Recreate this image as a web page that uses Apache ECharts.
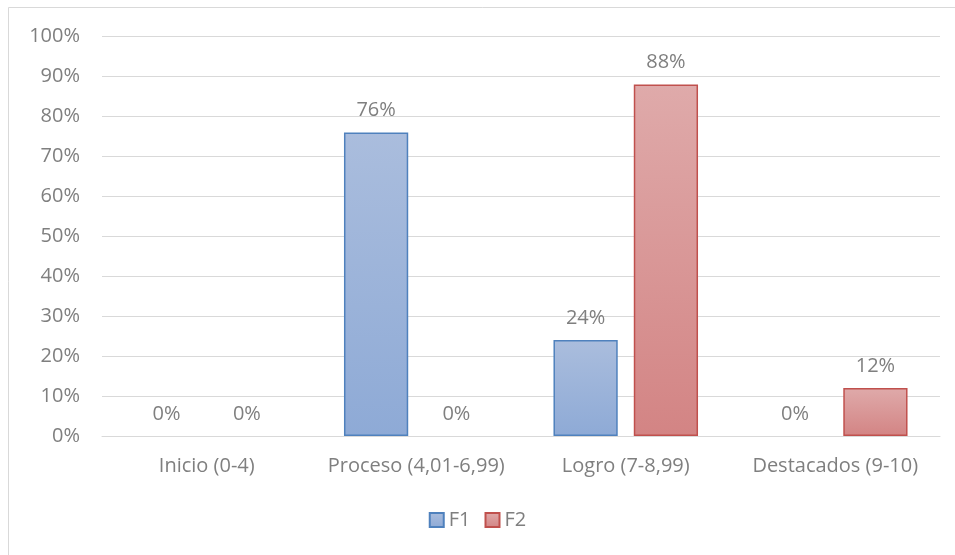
<!DOCTYPE html>
<html>
<head>
<meta charset="utf-8">
<script src="https://cdn.jsdelivr.net/npm/echarts@6/dist/echarts.min.js"></script>
<style>
  html, body { margin: 0; padding: 0; background: #fff; }
  #chart { width: 955px; height: 555px; }
</style>
</head>
<body>
<div id="chart"></div>
<script>
const categories = ["Inicio (0-4)", "Proceso (4,01-6,99)", "Logro (7-8,99)", "Destacados (9-10)"];
const f1Values = [0, 76, 24, 0];
const f2Values = [0, 0, 88, 12];

const chart = echarts.init(document.getElementById("chart"));

const fontFamily = "'Open Sans', 'Noto Sans', sans-serif";
const textColor = "#7f7f7f";
const fontSize = 20;

function barGradient(top, bottom) {
    return new echarts.graphic.LinearGradient(0, 0, 0, 1, [
        { offset: 0, color: top },
        { offset: 1, color: bottom }
    ]);
}

// zero-height bars get no outline, like the original
function toBarData(values) {
    return values.map(v => v === 0 ? { value: v, itemStyle: { borderWidth: 0 } } : v);
}

const labelStyle = {
    show: true,
    position: "top",
    distance: 12,
    color: textColor,
    fontSize: fontSize,
    fontFamily: fontFamily,
    formatter: p => p.value + "%"
};

const option = {
    animation: false,
    backgroundColor: "#fff",
    graphic: [{
        type: "rect",
        shape: { x: 8.5, y: 7.5, width: 960, height: 560 },
        style: { fill: "none", stroke: "#d9d9d9", lineWidth: 1 },
        silent: true
    }],
    grid: { left: 102, right: 15, top: 36.5, bottom: 119 },
    legend: {
        bottom: 20,
        left: "center",
        itemWidth: 14,
        itemHeight: 14,
        itemGap: 14,
        icon: "rect",
        textStyle: { color: textColor, fontSize: fontSize, fontFamily: fontFamily },
        data: ["F1", "F2"]
    },
    xAxis: {
        type: "category",
        data: categories,
        axisLine: { show: true, lineStyle: { color: "#d9d9d9", width: 1 } },
        axisTick: { show: false },
        axisLabel: { interval: 0, color: textColor, fontSize: fontSize, fontFamily: fontFamily, margin: 20 }
    },
    yAxis: {
        type: "value",
        min: 0,
        max: 100,
        interval: 10,
        axisLine: { show: false },
        axisTick: { show: false },
        axisLabel: { color: textColor, fontSize: fontSize, fontFamily: fontFamily, margin: 22, formatter: "{value}%" },
        splitLine: { lineStyle: { color: "#d9d9d9", width: 1 } }
    },
    series: [
        {
            name: "F1",
            type: "bar",
            data: toBarData(f1Values),
            barGap: "25%",
            barCategoryGap: "31%",
            itemStyle: {
                color: barGradient("#aabddd", "#8eaad6"),
                borderColor: "#4f81bd",
                borderWidth: 1.5
            },
            label: labelStyle
        },
        {
            name: "F2",
            type: "bar",
            data: toBarData(f2Values),
            barGap: "25%",
            barCategoryGap: "31%",
            itemStyle: {
                color: barGradient("#dfaaaa", "#d38484"),
                borderColor: "#c0504d",
                borderWidth: 1.5
            },
            label: labelStyle
        }
    ]
};

chart.setOption(option);
</script>
</body>
</html>
